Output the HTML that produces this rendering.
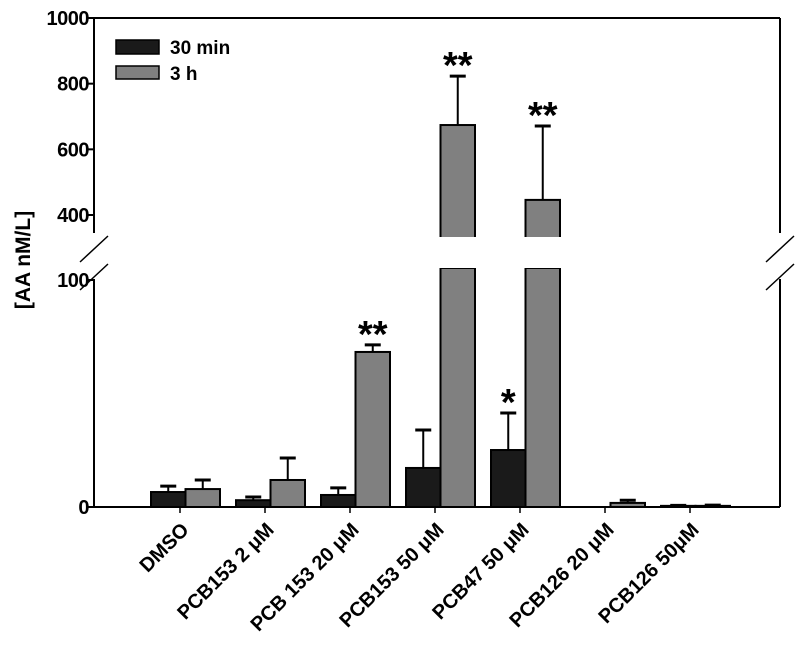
<!DOCTYPE html>
<html><head><meta charset="utf-8"><style>
body{margin:0;background:#fff;}
svg{display:block;font-family:"Liberation Sans",sans-serif;font-weight:bold;}
</style></head><body>
<svg id="chart" width="800" height="653"></svg>
<script>
const categories=["DMSO","PCB153 2 \u03bcM","PCB 153 20 \u03bcM","PCB153 50 \u03bcM","PCB47 50 \u03bcM","PCB126 20 \u03bcM","PCB126 50\u03bcM"];
const series30=[6.6,3,5.3,17.2,25.1,0,0.5];
const err30=[9.2,4.4,8.4,33.9,41.4,0,0.7];
const series3h=[7.9,11.9,68.3,674,446,1.8,0.5];
const err3h=[11.9,21.6,71.4,823,671,3,0.8];
const stars30=["","","","","*","",""];
const stars3h=["","","**","**","**","",""];
const upperTicks=[400,600,800,1000];
const lowerTicks=[0,100];
const NS="http://www.w3.org/2000/svg";
const svg=document.getElementById("chart");
function mk(t,a,p){const e=document.createElementNS(NS,t);for(const k in a)e.setAttribute(k,a[k]);(p||svg).appendChild(e);return e;}
const X0=94,X1=780,Y0=507,Y100=280,YT=18;
const GAP_TOP=238,GAP_BOT=268;
function y(v){ if(v<=100) return Y0-(Y0-Y100)*v/100; if(v<400) return GAP_TOP; return 215-(215-YT)*(v-400)/600; }
function gx(i){return 151+i*85;}
const bw=34.5;
let e=mk("line",{x1:X0,y1:YT,x2:X0,y2:233,stroke:"#000","stroke-width":2});
e=mk("line",{x1:X0,y1:279,x2:X0,y2:Y0,stroke:"#000","stroke-width":2});
e=mk("line",{x1:X1,y1:YT,x2:X1,y2:233,stroke:"#000","stroke-width":2});
e=mk("line",{x1:X1,y1:279,x2:X1,y2:Y0,stroke:"#000","stroke-width":2});
e=mk("line",{x1:X0,y1:YT,x2:X1,y2:YT,stroke:"#000","stroke-width":2});
e=mk("line",{x1:90,y1:Y0,x2:X1,y2:Y0,stroke:"#000","stroke-width":2});
[X0,X1].forEach(xx=>{
 e=mk("line",{x1:xx-14,y1:262,x2:xx+14,y2:236,stroke:"#000","stroke-width":1.5});
 e=mk("line",{x1:xx-14,y1:290,x2:xx+14,y2:264,stroke:"#000","stroke-width":1.5});
});
upperTicks.concat(lowerTicks).forEach(v=>{
 const yy=y(v);
 e=mk("line",{x1:88,y1:yy,x2:X0,y2:yy,stroke:"#000","stroke-width":2});
 e=mk("text",{x:89,y:yy+7,"text-anchor":"end","font-size":20,"letter-spacing":"-0.5"});e.textContent=v;
});
e=mk("text",{x:0,y:0,"font-size":21,"text-anchor":"middle",transform:"translate(30,260) rotate(-90)"});e.textContent="[AA nM/L]";
function bar(x,v,err,fill,name,star){
 const top=y(v);
 if(err>v){const ey=y(err);
  e=mk("line",{x1:x+bw/2,y1:ey,x2:x+bw/2,y2:top,stroke:"#000","stroke-width":2});
  e=mk("line",{x1:x+bw/2-8,y1:ey,x2:x+bw/2+8,y2:ey,stroke:"#000","stroke-width":3});}
 if(v>100){
  e=mk("rect",{x:x,y:top,width:bw,height:GAP_TOP-top,fill:fill,stroke:"#000","stroke-width":2});
  e=mk("rect",{x:x,y:GAP_BOT,width:bw,height:Y0-GAP_BOT,fill:fill,stroke:"#000","stroke-width":2});
  e=mk("rect",{x:x-2,y:GAP_TOP-1,width:bw+4,height:GAP_BOT-GAP_TOP+1,fill:"#fff"});
 } else if(v>0){
  e=mk("rect",{x:x,y:top,width:bw,height:Math.max(Y0-top,1),fill:fill,stroke:"#000","stroke-width":2});
 }
 if(star){const sy=(err>v?y(err):top)-12;
  e=mk("text",{x:x+bw/2,y:sy+14,"text-anchor":"middle","font-size":38});e.textContent=star;}
}
categories.forEach((c,i)=>{
 const x=gx(i);
 bar(x,series30[i],err30[i],"#1a1a1a","bar-30min",stars30[i]);
 bar(x+bw,series3h[i],err3h[i],"#808080","bar-3h",stars3h[i]);
 e=mk("line",{x1:x+29,y1:Y0,x2:x+29,y2:Y0+6,stroke:"#000","stroke-width":1.5});
 e=mk("text",{x:0,y:0,"text-anchor":"end","font-size":20,transform:`translate(${x+39},${Y0+24}) rotate(-45)`});e.textContent=c;
});
e=mk("rect",{x:116,y:40,width:43,height:14,fill:"#1a1a1a",stroke:"#000","stroke-width":1.5});
e=mk("text",{x:170,y:54,"font-size":19});e.textContent="30 min";
e=mk("rect",{x:116,y:66,width:43,height:13,fill:"#808080",stroke:"#000","stroke-width":1.5});
e=mk("text",{x:170,y:80,"font-size":19});e.textContent="3 h";
</script>
</body></html>
